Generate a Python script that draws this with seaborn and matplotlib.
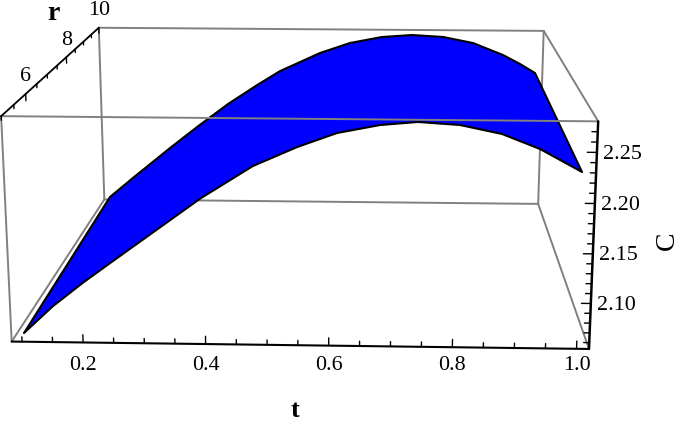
import numpy as np
import matplotlib.pyplot as plt
import seaborn as sns

# surface edges: back edge is r=10, front edge is r=5
t_back = [0.0955, 0.1466, 0.2284, 0.2873, 0.3545, 0.4168, 0.4659, 0.5507,
          0.614, 0.6813, 0.7443, 0.8095, 0.8727, 0.9362, 0.9725, 1.0045]
c_back = [2.0569, 2.0829, 2.1234, 2.1515, 2.1822, 2.2072, 2.2257, 2.2495,
          2.2627, 2.2707, 2.2735, 2.2713, 2.2638, 2.2487, 2.2373, 2.2258]
t_front = [0.1038, 0.1525, 0.203, 0.2483, 0.3959, 0.4797,
           0.5499, 0.6127, 0.68, 0.7394, 0.8051, 0.871, 0.931, 0.9979]
c_front = [2.0625, 2.0904, 2.1149, 2.1353, 2.2011, 2.2335,
           2.2525, 2.2665, 2.2746, 2.2779, 2.2753, 2.267, 2.2528, 2.2308]

t_major = [0.2, 0.4, 0.6, 0.8, 1.0]
t_minor = [0.1, 0.15, 0.25, 0.3, 0.35, 0.45, 0.5, 0.55, 0.65, 0.7, 0.75, 0.85, 0.9, 0.95]
r_major = [6, 8, 10]
r_minor = [5, 5.5, 6.5, 7, 7.5, 8.5, 9, 9.5]
c_major = [2.10, 2.15, 2.20, 2.25]
c_minor = [2.06, 2.07, 2.08, 2.09, 2.11, 2.12, 2.13, 2.14, 2.16, 2.17, 2.18, 2.19,
           2.21, 2.22, 2.23, 2.24, 2.26, 2.27]

T0, T1, R0, R1, C0, C1 = 0.083, 1.02, 5.0, 10.0, 2.0535, 2.28

# fit a perspective camera to where the box corners sit in the image
box_3d = [(T0, R0, C0), (T1, R0, C0), (T0, R0, C1), (T1, R0, C1),
          (T0, R1, C0), (T1, R1, C0), (T0, R1, C1), (T1, R1, C1)]
box_px = [(11, 343), (589, 350), (2, 117), (598, 122),
          (105, 200), (538, 205), (98, 29), (544, 32)]
A = []
b = []
for (t, r, c), (x, y) in zip(box_3d, box_px):
    A.append([t, r, c, 1, 0, 0, 0, 0, -x*t, -x*r, -x*c])
    b.append(x)
    A.append([0, 0, 0, 0, t, r, c, 1, -y*t, -y*r, -y*c])
    b.append(y)
cam = np.append(np.linalg.lstsq(np.array(A), np.array(b, float), rcond=None)[0], 1).reshape(3, 4)


def proj(t, r, c):
    v = cam @ np.array([t, r, c, 1.0])
    return v[0] / v[2], v[1] / v[2]


def proj_line(points):
    xy = np.array([proj(*p) for p in points])
    return xy[:, 0], xy[:, 1]


sns.set_theme(style="white")
plt.rcParams['font.family'] = ['Liberation Serif', 'DejaVu Serif']
plt.rcParams['text.color'] = 'black'

fig = plt.figure(figsize=(6.85, 4.27), dpi=100)
ax = fig.add_axes([0, 0, 1, 1])
ax.set_xlim(0, 685)
ax.set_ylim(427, 0)
ax.axis('off')

GRAY = '#808080'
FS = 15.8


def edge(p, q, color=GRAY, lw=1.4, z=1):
    x, y = proj_line([p, q])
    ax.plot(x, y, color=color, lw=lw, zorder=z, solid_capstyle='round')


# box edges behind the surface
edge((T0, R0, C1), (T0, R0, C0))
edge((T0, R0, C0), (T0, R1, C0))
edge((T0, R1, C0), (T0, R1, C1))
edge((T0, R1, C1), (T1, R1, C1))
edge((T1, R1, C1), (T1, R1, C0))
edge((T0, R1, C0), (T1, R1, C0))
edge((T1, R1, C0), (T1, R0, C0))
edge((T1, R1, C1), (T1, R0, C1))

# surface outline: back edge, then t=1 side, then front edge back to the start
pts = [(t, R1, c) for t, c in zip(t_back, c_back)] + \
      [(t, R0, c) for t, c in zip(t_front[::-1], c_front[::-1])]
xs, ys = proj_line(pts + pts[:1])
ax.fill(xs, ys, color='#0000ff', lw=0, zorder=2)
sns.lineplot(x=xs, y=ys, sort=False, estimator=None, color='black', lw=1.5, ax=ax, zorder=3)

# front top edge runs over the surface
edge((T0, R0, C1), (T1, R0, C1), z=4)

# the three axes
edge((T0, R0, C0), (T1, R0, C0), color='black', lw=1.5, z=5)
edge((T1, R0, C0), (T1, R0, C1), color='black', lw=1.8, z=5)
edge((T0, R0, C1), (T0, R1, C1), color='black', lw=1.3, z=5)

for t in t_major + t_minor:
    edge((t, R0, C0), (t, R0, C0 + (0.008 if t in t_major else 0.005)), color='black', lw=1.0, z=5)
for r in r_major + r_minor:
    edge((T0, r, C1), (T0, r, C1 - (0.007 if r in r_major else 0.004)), color='black', lw=1.0, z=5)
for c in c_major + c_minor:
    edge((T1, R0, c), (T1 - (0.015 if c in c_major else 0.009), R0, c), color='black', lw=1.0, z=5)

for t in t_major:
    ax.text(proj(t, R0, C0)[0], 366, f'{t:.1f}', fontsize=FS, ha='center', va='center')
for r in r_major:
    x, y = proj(T0, r, C1)
    ax.text(x, y - 18, str(r), fontsize=FS, ha='center', va='center')
for c in c_major:
    x, y = proj(T1, R0, c)
    ax.text(x + 26, y + 1, f'{c:.2f}', fontsize=FS, ha='center', va='center')

ax.text(295, 411, 't', fontsize=19, fontweight='bold', ha='center', va='center')
ax.text(53, 14, 'r', fontsize=20, fontweight='bold', ha='center', va='center')
ax.text(667, 241, 'C', fontsize=20, rotation=90, ha='center', va='center')

fig.savefig('out.png', dpi=100)
